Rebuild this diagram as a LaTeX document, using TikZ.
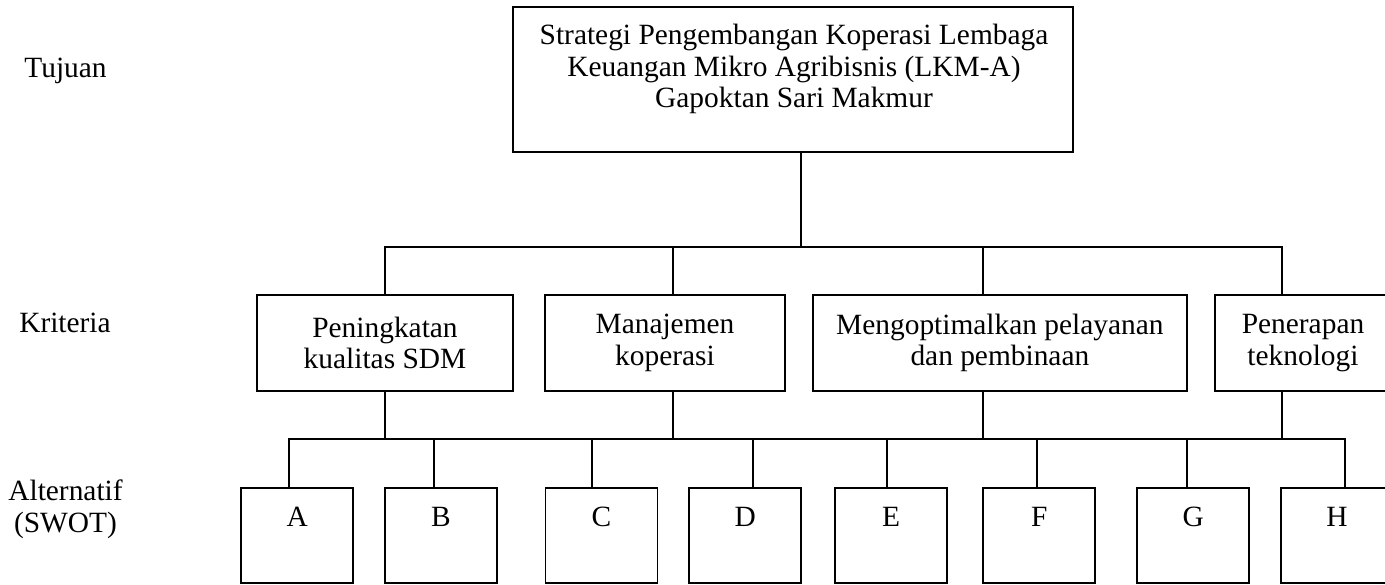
\documentclass[tikz,border=0pt]{standalone}
\usepackage{fontspec}
\setmainfont{Liberation Serif}
\usepackage{tikz}

\begin{document}
\begin{tikzpicture}[x=0.5pt, y=-0.5pt, line width=0.9pt,
	every node/.style={font=\fontsize{14.7}{15.9}\selectfont, inner sep=0pt},
	goalbox/.style={draw, minimum width=280.2pt, minimum height=72.2pt},
	critbox/.style={draw, align=center, minimum height=48pt},
	altbox/.style={draw, minimum width=56pt, text height=19.4pt, text depth=28.1pt}]
	\useasboundingbox (0,0) rectangle (1385,584);
	\node[anchor=base] (tujuan) at (65.5,77.8) {Tujuan};
	\node[anchor=base] (kriteria) at (65,332.5) {Kriteria};
	\node[align=center] (alternatif) at (65.5,509) {Alternatif\\(SWOT)};
	\node[goalbox] (goal) at (792.9,79.5) {};
	\node[align=center] (goaltext) at (794,69) {Strategi Pengembangan Koperasi Lembaga\\Keuangan Mikro Agribisnis (LKM-A)\\Gapoktan Sari Makmur};
	\node[critbox, minimum width=128.3pt] (k1) at (385,343) {Peningkatan\\kualitas SDM};
	\node[critbox, minimum width=120.3pt] (k2) at (665,343) {Manajemen\\koperasi};
	\node[critbox, minimum width=187.2pt] (k3) at (999.9,343) {Mengoptimalkan pelayanan\\dan pembinaan};
	\node[critbox, minimum width=88pt] (k4) at (1303,343) {Penerapan\\teknologi};
	\foreach \n/\x in {A/297.2,B/440.8,C/601.5,D/745.3,E/891.2,F/1039.2,G/1193.3,H/1337} {\node[altbox] (alt\n) at (\x,535.2) {\n};}
	\foreach \n/\x in {1/384.7,2/673.3,3/983.3,4/1281.7} {\coordinate (c\n) at (\x,247.3);}
	\foreach \n/\x in {A/289,B/434.3,C/592.3,D/752.7,E/887,F/1036.7,G/1186.7,H/1345} {\coordinate (a\n) at (\x,439.3);}
	\coordinate (c0) at (801.3,247.3);
	\draw (goal.south -| c0) -- (c0);
	\draw (c1 |- k1.north) -- (c1) -- (c4) -- (c4 |- k4.north);
	\foreach \n in {2,3} {\draw (c\n) -- (c\n |- k\n.north);}
	\foreach \n in {1,2,3,4} {\draw (k\n.south -| c\n) -- (c\n |- aA);}
	\draw (aA |- altA.north) -- (aA) -- (aH) -- (aH |- altH.north);
	\foreach \n in {B,C,D,E,F,G} {\draw (a\n) -- (a\n |- alt\n.north);}
\end{tikzpicture}
\end{document}
